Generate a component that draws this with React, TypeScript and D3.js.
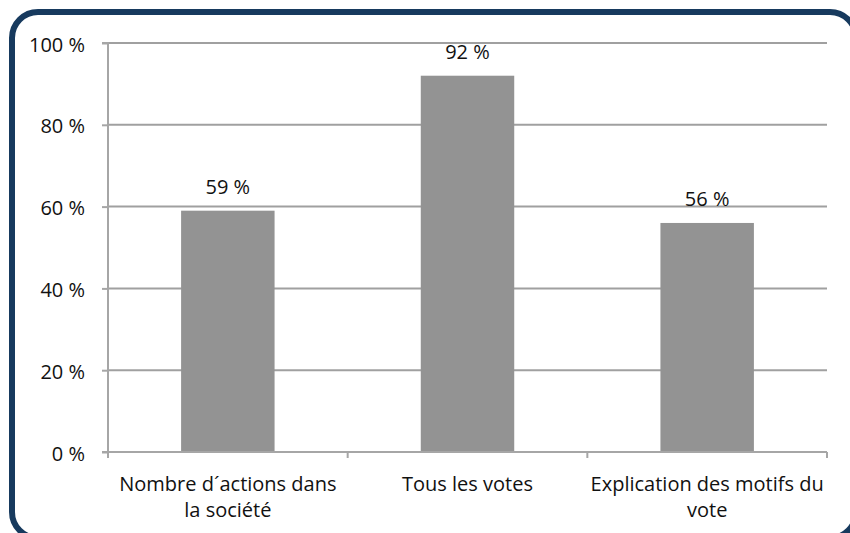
import * as React from 'react';
import * as d3 from 'd3';

const categories = ['Nombre d´actions dans la société', 'Tous les votes', 'Explication des motifs du vote'];
const categoryLines = [['Nombre d´actions dans', 'la société'], ['Tous les votes'], ['Explication des motifs du', 'vote']];
const values = [59, 92, 56];
const yTicks = [0, 20, 40, 60, 80, 100];

export default function App() {
  const ref = React.useRef<SVGSVGElement>(null);

  React.useEffect(() => {
    const width = 850;
    const height = 533;
    const margin = { top: 43, bottom: 81, left: 108, right: 23 };
    const innerWidth = width - margin.left - margin.right;
    const innerHeight = height - margin.top - margin.bottom;
    const font = '"Open Sans", Lato, sans-serif';
    const fontSize = '20px';

    const svg = d3.select(ref.current);
    svg.selectAll('*').remove();

    // frame (right and bottom edges run past the picture)
    svg.append('rect')
      .attr('x', 12)
      .attr('y', 12)
      .attr('width', 844)
      .attr('height', 526)
      .attr('rx', 26)
      .attr('fill', 'white')
      .attr('stroke', '#173a5e')
      .attr('stroke-width', 6);

    const xScale = d3.scaleBand()
      .domain(categories)
      .range([0, innerWidth])
      .paddingInner(0.61)
      .paddingOuter(0.305);

    const yScale = d3.scaleLinear()
      .domain([0, 100])
      .range([innerHeight, 0]);

    const g = svg.append('g')
      .attr('transform', `translate(${margin.left}, ${margin.top})`);

    // gridlines
    g.append('g')
      .selectAll('line')
      .data(yTicks.filter(d => d > 0))
      .enter().append('line')
      .attr('x1', 0)
      .attr('x2', innerWidth)
      .attr('y1', d => yScale(d))
      .attr('y2', d => yScale(d))
      .attr('stroke', '#a0a0a0')
      .attr('stroke-width', 2);

    // bars
    g.append('g')
      .selectAll('rect')
      .data(values)
      .enter().append('rect')
      .attr('x', (d, i) => xScale(categories[i]) as number)
      .attr('y', d => yScale(d))
      .attr('width', xScale.bandwidth())
      .attr('height', d => innerHeight - yScale(d))
      .attr('fill', '#939393');

    // value labels
    g.append('g')
      .selectAll('text')
      .data(values)
      .enter().append('text')
      .attr('x', (d, i) => (xScale(categories[i]) as number) + xScale.bandwidth() / 2)
      .attr('y', d => yScale(d) - 17)
      .attr('text-anchor', 'middle')
      .style('font-family', font)
      .style('font-size', fontSize)
      .attr('fill', '#111')
      .text(d => `${d} %`);

    // y axis
    const yAxis = g.append('g')
      .call(d3.axisLeft(yScale).tickValues(yTicks).tickSize(6).tickPadding(17).tickFormat(d => `${d} %`));
    yAxis.select('.domain').attr('stroke', '#a6a6a6').attr('stroke-width', 2).attr('d', `M-6,0H0V${innerHeight}H-6`);
    yAxis.selectAll('.tick line').attr('stroke', '#a6a6a6').attr('stroke-width', 2);
    yAxis.selectAll('.tick text')
      .attr('dy', '0.4em')
      .style('font-family', font)
      .style('font-size', fontSize)
      .attr('fill', '#111');

    // x axis
    const step = xScale.step();
    const boundaries = d3.range(categories.length + 1).map(i => i * step);
    const xAxis = g.append('g').attr('transform', `translate(0, ${innerHeight})`);
    xAxis.append('line')
      .attr('x1', 0)
      .attr('x2', innerWidth)
      .attr('stroke', '#a6a6a6')
      .attr('stroke-width', 2);
    xAxis.selectAll('line.tick')
      .data(boundaries)
      .enter().append('line')
      .attr('class', 'tick')
      .attr('x1', d => d)
      .attr('x2', d => d)
      .attr('y1', 0)
      .attr('y2', 6)
      .attr('stroke', '#a6a6a6')
      .attr('stroke-width', 2);

    const labels = xAxis.selectAll('text')
      .data(categoryLines)
      .enter().append('text')
      .attr('text-anchor', 'middle')
      .attr('fill', '#111')
      .style('font-family', font)
      .style('font-size', fontSize)
      .attr('transform', (d, i) => `translate(${(xScale(categories[i]) as number) + xScale.bandwidth() / 2}, 0)`);
    labels.selectAll('tspan')
      .data(d => d)
      .enter().append('tspan')
      .attr('x', 0)
      .attr('y', (d, i) => 39 + i * 26)
      .text(d => d);
  }, []);

  return (
    <div style={{ position: 'absolute', left: 0, top: 0 }}>
      <svg ref={ref} width={850} height={533} style={{ display: 'block' }} />
    </div>
  );
}
